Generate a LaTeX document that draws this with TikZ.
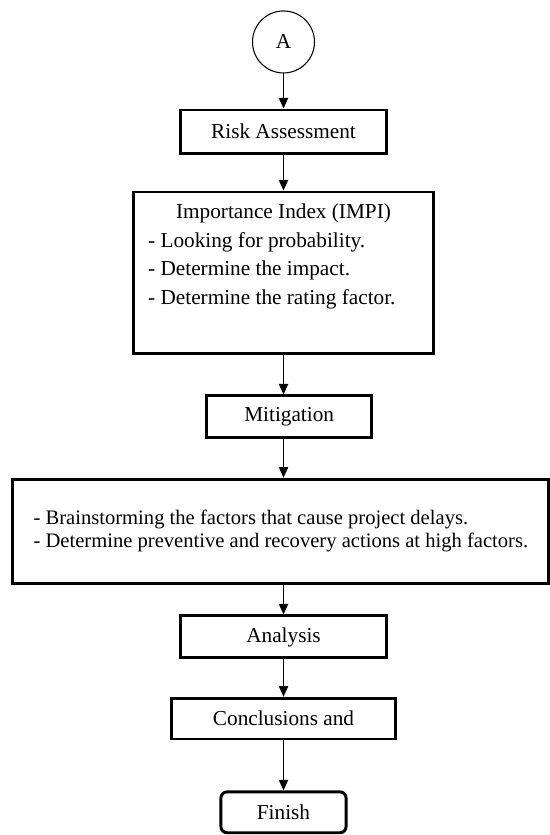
\documentclass[tikz,border=0pt]{standalone}
\usepackage{fontspec}
\setmainfont{Liberation Serif}
\usetikzlibrary{arrows.meta}

\begin{document}
\begin{tikzpicture}[
        box/.style={draw, line width=2.2pt, inner sep=2pt, font=\fontsize{16pt}{21.4pt}\selectfont},
        link/.style={line width=0.9pt, -{Triangle[length=8pt,width=7pt]}}
    ]
    \useasboundingbox (0,0) rectangle (14.55,22.09);

    \node[draw, circle, line width=0.8pt, minimum size=1.64cm, inner sep=0pt, font=\fontsize{16pt}{19pt}\selectfont] (start) at (7.50,20.98) {A};
    \node[box, minimum width=5.45cm, minimum height=1.14cm] (risk) at (7.50,18.61) {Risk Assessment};
    \node[box, minimum width=7.96cm, minimum height=4.26cm, inner xsep=0.4cm, text width=7.16cm, align=flush left] (impi) at (7.50,14.88)
        {\makebox[\linewidth]{Importance Index (IMPI)}\\ - Looking for probability.\\ - Determine the impact.\\ - Determine the rating factor.\\ \strut};
    \node[box, minimum width=4.37cm, minimum height=1.11cm] (mitig) at (7.65,11.06) {Mitigation};
    \node[box, minimum width=14.18cm, minimum height=2.75cm, align=left, font=\fontsize{15.5pt}{17.25pt}\selectfont] (action) at (7.43,8.04)
        {- Brainstorming the factors that cause project delays.\\ - Determine preventive and recovery actions at high factors.};
    \node[box, minimum width=5.45cm, minimum height=1.11cm] (anal) at (7.50,5.24) {Analysis};
    \node[box, minimum width=5.95cm, minimum height=1.08cm] (concl) at (7.50,3.08) {Conclusions and};
    \node[box, rounded corners=0.16cm, minimum width=3.31cm, minimum height=1.08cm] (finish) at (7.50,0.60) {Finish};

    % connectors, all on the middle line
    \draw[link] (start) -- (risk);
    \draw[link] (risk) -- (impi);
    \draw[link] (impi.south) -- (impi.south |- mitig.north);
    \draw[link] (mitig.south -| impi.south) -- (impi.south |- action.north);
    \draw[link] (anal.north |- action.south) -- (anal);
    \draw[link] (anal) -- (concl);
    \draw[link] (concl) -- (finish);
\end{tikzpicture}
\end{document}
